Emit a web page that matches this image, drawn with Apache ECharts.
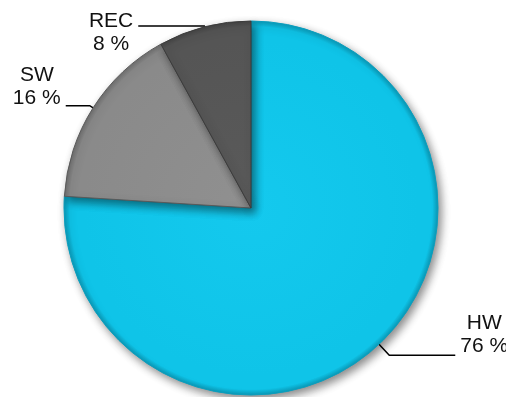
<!DOCTYPE html>
<html>
<head>
<meta charset="utf-8">
<script src="https://cdn.jsdelivr.net/npm/echarts@6/dist/echarts.min.js"></script>
<style>
  html, body { margin: 0; padding: 0; background: #ffffff; }
  #chart { width: 506px; height: 397px; }
</style>
</head>
<body>
<div id="chart"></div>
<script>
// Share of each category (percent)
const categories = ['HW', 'SW', 'REC'];
const shares = [76, 16, 8];

// Pie geometry (pixels)
const CX = 251, CY = 208, R = 187;

function rimGradient(inner, mid, edge) {
  return {
    type: 'radial', x: CX, y: CY, r: R, global: true,
    colorStops: [
      { offset: 0, color: inner },
      { offset: 0.9, color: mid },
      { offset: 0.97, color: mid },
      { offset: 1, color: edge }
    ]
  };
}

// Per-slice look: fill, leader line lengths and the spacer that sets where
// the leader line meets the two-line label (above / below the text block)
const sliceStyle = {
  HW:  { fill: rimGradient('#14c9ee', '#0fc4e8', '#0a9ab8'), border: '#0a9fbf',
         line: { length: 15, length2: 66 }, gapTop: 0, gapBottom: 41 },
  SW:  { fill: rimGradient('#909090', '#8a8a8a', '#6e6e6e'), border: '#5a5a5a',
         line: { length: 4, length2: 24 }, gapTop: 0, gapBottom: 37 },
  REC: { fill: rimGradient('#5a5a5a', '#555555', '#444444'), border: '#3c3c3c',
         line: { length: 1, length2: 66 }, gapTop: 13, gapBottom: 0 }
};

const textStyle = {
  fontFamily: 'Liberation Sans, Arial, sans-serif',
  fontSize: 21,
  lineHeight: 23,
  color: '#111111',
  align: 'center'
};

const data = categories.map((name, i) => {
  const s = sliceStyle[name];
  return {
    name: name,
    value: shares[i],
    itemStyle: { color: s.fill, borderColor: s.border, borderWidth: 1 },
    labelLine: s.line,
    label: {
      formatter: (p) =>
        (s.gapTop ? '{gt| }\n' : '') +
        '{t|' + p.name + '}\n{t|' + p.value + ' %}' +
        (s.gapBottom ? '\n{gb| }' : ''),
      rich: {
        t: textStyle,
        gt: { fontSize: 1, lineHeight: s.gapTop || 1 },
        gb: { fontSize: 1, lineHeight: s.gapBottom || 1 }
      }
    }
  };
});

const chart = echarts.init(document.getElementById('chart'), null, { renderer: 'canvas' });
chart.setOption({
  animation: false,
  backgroundColor: '#ffffff',
  series: [{
    type: 'pie',
    center: [CX, CY],
    radius: R,
    startAngle: 90,
    clockwise: true,
    avoidLabelOverlap: false,
    data: data,
    itemStyle: {
      shadowBlur: 8,
      shadowOffsetX: 3,
      shadowOffsetY: 4,
      shadowColor: 'rgba(0,0,0,0.45)'
    },
    label: {
      show: true,
      position: 'outside',
      align: 'center',
      distanceToLabelLine: 5
    },
    labelLine: {
      show: true,
      smooth: false,
      lineStyle: { color: '#000000', width: 1.5 }
    },
    emphasis: { disabled: true }
  }]
});
</script>
</body>
</html>
